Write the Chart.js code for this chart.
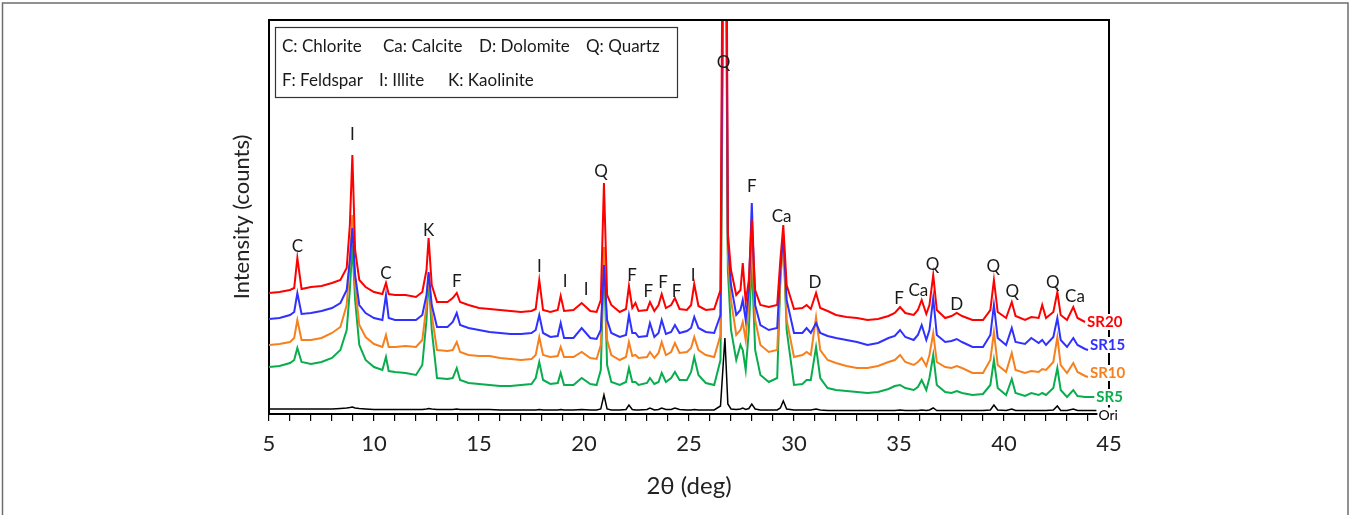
<!DOCTYPE html>
<html>
<head>
<meta charset="utf-8">
<script src="https://cdn.jsdelivr.net/npm/chart.js@4.4.1/dist/chart.umd.min.js"></script>
<style>
  html, body { margin: 0; background: #fff; }
  canvas { display: block; }
</style>
</head>
<body>
<canvas id="xrd" width="1351" height="515"></canvas>
<script>
// 2-theta positions (deg) shared by all patterns
const twoTheta = [
  5.0, 5.5, 6.0, 6.2, 6.35, 6.55, 7.0, 7.5, 8.0, 8.4,
  8.7, 8.85, 8.97, 9.1, 9.3, 9.6, 10.0, 10.4, 10.57, 10.7,
  11.0, 11.5, 12.0, 12.3, 12.5, 12.6, 12.75, 13.0, 13.5, 13.75,
  13.94, 14.1, 14.5, 15.0, 15.5, 16.0, 16.5, 17.0, 17.5, 17.7,
  17.87, 18.05, 18.4, 18.75, 18.89, 19.05, 19.5, 19.89, 20.3, 20.6,
  20.8, 20.95, 21.1, 21.3, 21.7, 22.0, 22.14, 22.3, 22.45, 22.6,
  23.0, 23.14, 23.35, 23.55, 23.7, 23.9, 24.15, 24.33, 24.55, 24.9,
  25.1, 25.25, 25.45, 25.8, 26.2, 26.5, 26.71, 26.85, 27.0, 27.25,
  27.45, 27.56, 27.7, 27.85, 27.99, 28.15, 28.4, 28.8, 29.2, 29.35,
  29.49, 29.65, 30.0, 30.4, 30.6, 30.8, 31.05, 31.25, 31.6, 32.0,
  32.5, 33.0, 33.5, 34.0, 34.5, 34.8, 35.05, 35.3, 35.7, 35.9,
  36.08, 36.3, 36.45, 36.63, 36.8, 37.2, 37.5, 37.75, 38.0, 38.5,
  39.0, 39.35, 39.52, 39.7, 40.1, 40.37, 40.55, 41.0, 41.3, 41.65,
  41.82, 42.0, 42.35, 42.54, 42.7, 43.0, 43.3, 43.5, 43.86, 44.0,
  44.3, 44.4
];

// intensities (counts, stacked patterns as plotted)
const sr20 = [
  1210, 1220, 1240, 1260, 1560, 1250, 1270, 1280, 1310, 1340,
  1460, 1890, 2590, 1640, 1340, 1270, 1220, 1200, 1310, 1200,
  1190, 1190, 1170, 1220, 1440, 1760, 1290, 1120, 1120, 1160,
  1210, 1120, 1090, 1060, 1050, 1040, 1030, 1020, 1030, 1050,
  1340, 1040, 1020, 1040, 1180, 1030, 1040, 1110, 1030, 1020,
  1140, 2310, 1190, 1090, 1020, 1050, 1280, 1060, 1110, 1030,
  1040, 1120, 1030, 1090, 1200, 1060, 1090, 1160, 1050, 1040,
  1090, 1300, 1080, 1040, 1050, 1240, 9000, 1810, 1440, 1190,
  1240, 1510, 1120, 1340, 1940, 1240, 1090, 1070, 1090, 1540,
  1890, 1290, 1050, 1060, 1090, 1050, 1210, 1060, 1030, 990,
  970, 960, 940, 950, 980, 1010, 1070, 1010, 990, 1040,
  1140, 1000, 1090, 1390, 1040, 960, 980, 1010, 980, 940,
  940, 1040, 1340, 1020, 960, 1120, 980, 940, 970, 960,
  1090, 960, 1020, 1220, 990, 940, 1070, 960, 920, null,
  null, null
];
const sr15 = [
  950, 960, 990, 1020, 1210, 1000, 1010, 1030, 1060, 1110,
  1240, 1540, 1860, 1390, 1090, 1010, 960, 940, 1190, 960,
  940, 940, 940, 990, 1190, 1420, 1090, 870, 870, 920,
  1010, 890, 860, 840, 820, 810, 800, 800, 810, 840,
  990, 810, 770, 780, 910, 760, 760, 860, 760, 750,
  840, 1490, 940, 810, 770, 790, 990, 810, 810, 770,
  780, 910, 770, 810, 940, 800, 820, 890, 810, 830,
  860, 970, 860, 820, 810, 990, 7500, 1740, 1290, 990,
  1040, 1140, 940, 1240, 2110, 1090, 890, 840, 860, 1440,
  1790, 1140, 810, 810, 860, 810, 910, 810, 780, 760,
  740, 720, 690, 710, 760, 780, 840, 770, 740, 790,
  890, 740, 840, 1160, 790, 720, 730, 750, 720, 670,
  670, 790, 1090, 760, 690, 860, 720, 700, 760, 710,
  740, 690, 770, 960, 740, 670, 760, 690, 650, 640,
  null, null
];
const sr10 = [
  690, 700, 720, 760, 940, 740, 740, 760, 810, 870,
  1090, 1540, 1990, 1290, 890, 770, 700, 670, 790, 670,
  670, 680, 670, 740, 1090, 1410, 990, 640, 630, 640,
  720, 620, 590, 580, 580, 560, 550, 540, 550, 590,
  770, 590, 570, 580, 670, 570, 570, 620, 560, 550,
  690, 1670, 740, 590, 540, 570, 720, 580, 590, 560,
  570, 620, 560, 610, 720, 590, 620, 710, 610, 620,
  660, 770, 640, 590, 570, 790, 7000, 1590, 1140, 790,
  840, 920, 740, 1140, 1710, 940, 690, 620, 640, 1340,
  1740, 940, 570, 590, 620, 590, 970, 640, 540, 510,
  480, 460, 460, 480, 520, 540, 590, 520, 490, 520,
  560, 480, 590, 810, 520, 470, 460, 480, 460, 410,
  410, 540, 820, 490, 420, 610, 440, 410, 430, 420,
  450, 440, 520, 770, 490, 410, 510, 420, 380, 370,
  null, null
];
const sr5 = [
  470, 480, 510, 540, 660, 520, 500, 520, 560, 640,
  840, 1240, 1690, 1140, 690, 540, 470, 440, 570, 430,
  420, 410, 390, 490, 940, 1360, 840, 360, 350, 360,
  460, 340, 310, 300, 290, 280, 280, 290, 300, 360,
  520, 340, 300, 310, 410, 290, 290, 360, 300, 290,
  440, 1560, 490, 320, 290, 320, 460, 320, 320, 290,
  310, 360, 300, 320, 410, 320, 360, 420, 340, 340,
  420, 570, 390, 310, 290, 540, 6500, 1440, 840, 540,
  690, 640, 440, 840, 1520, 640, 390, 320, 360, 1340,
  1770, 840, 290, 300, 340, 340, 670, 360, 260, 240,
  230, 220, 210, 220, 250, 280, 290, 260, 240, 270,
  340, 240, 360, 590, 290, 220, 210, 230, 210, 190,
  200, 290, 540, 260, 190, 350, 210, 180, 210, 190,
  210, 190, 260, 460, 240, 170, 240, 180, 170, 170,
  170, null
];
const ori = [
  50, 50, 50, 50, 50, 50, 50, 50, 50, 55,
  60, 65, 70, 60, 55, 50, 45, 45, 45, 45,
  45, 45, 45, 45, 50, 55, 50, 45, 45, 45,
  50, 45, 45, 45, 45, 40, 40, 40, 40, 40,
  45, 40, 40, 40, 45, 40, 40, 45, 40, 40,
  50, 190, 50, 40, 40, 45, 90, 45, 40, 40,
  45, 60, 40, 45, 60, 45, 45, 60, 45, 40,
  40, 45, 40, 40, 40, 80, 760, 100, 50, 45,
  50, 60, 45, 55, 100, 50, 40, 40, 40, 60,
  130, 50, 40, 40, 40, 40, 50, 40, 35, 35,
  35, 35, 35, 35, 35, 35, 40, 35, 35, 35,
  40, 35, 40, 60, 35, 35, 35, 35, 35, 35,
  35, 40, 90, 40, 35, 50, 35, 35, 35, 35,
  35, 35, 40, 80, 35, 35, 50, 35, 35, 35,
  35, 35
];

const seriesNames = ['SR20', 'SR15', 'SR10', 'SR5', 'Ori'];
const seriesColors = ['#ff0000', '#3030ff', '#f7801e', '#0aad4e', '#000000'];

// phase labels over the peaks
const peakLabels = ['C', 'I', 'C', 'K', 'F', 'I', 'I', 'I', 'Q', 'F', 'F', 'F', 'F', 'I',
  'Q', 'F', 'Ca', 'D', 'F', 'Ca', 'Q', 'D', 'Q', 'Q', 'Q', 'Ca'];
const peakX = [6.35, 8.97, 10.57, 12.6, 13.94, 17.87, 19.1, 20.1, 20.81, 22.29, 23.06, 23.76, 24.41, 25.2,
  26.65, 27.99, 29.41, 31.0, 35.0, 35.92, 36.6, 37.75, 39.49, 40.4, 42.32, 43.38];
const peakY = [1670, 2790, 1400, 1830, 1320, 1470, 1320, 1240, 2420, 1380, 1220, 1310, 1220, 1380,
  3510, 2270, 1970, 1310, 1150, 1230, 1490, 1090, 1470, 1220, 1310, 1170];

const keyRow1 = ['C: Chlorite', 'Ca: Calcite', 'D: Dolomite', 'Q: Quartz'];
const keyRow2 = ['F: Feldspar', 'I: Illite', 'K: Kaolinite'];

const FONT = 'Lato, "Open Sans", sans-serif';
Chart.defaults.font.family = FONT;
Chart.defaults.color = '#222';

const allSeries = [sr20, sr15, sr10, sr5, ori];
const toPoints = vals => twoTheta.map((x, i) => ({ x, y: vals[i] }));

// light grey frame round the whole figure
const outerFrame = {
  id: 'outerFrame',
  beforeDraw(chart) {
    const c = chart.ctx;
    c.save();
    c.strokeStyle = '#6e6e6e';
    c.lineWidth = 1.5;
    c.beginPath();
    c.moveTo(2.5, 515); c.lineTo(2.5, 3); c.lineTo(1348, 3); c.lineTo(1348, 515);
    c.stroke();
    c.restore();
  }
};

const decorations = {
  id: 'decorations',
  afterDatasetsDraw(chart) {
    const c = chart.ctx, a = chart.chartArea;
    const xs = chart.scales.x, ys = chart.scales.y;
    c.save();

    // top and right edge of the plot box
    c.strokeStyle = '#000';
    c.lineWidth = 2;
    c.beginPath();
    c.moveTo(a.left, a.top); c.lineTo(a.right, a.top); c.lineTo(a.right, a.bottom);
    c.stroke();

    // phase letters
    c.fillStyle = '#1a1a1a';
    c.font = '17px ' + FONT;
    c.textAlign = 'center';
    c.textBaseline = 'middle';
    peakLabels.forEach((t, i) => {
      c.fillText(t, xs.getPixelForValue(peakX[i]), ys.getPixelForValue(peakY[i]));
    });

    // key box
    const bx = a.left + 6, by = a.top + 7;
    c.lineWidth = 1.2;
    c.strokeStyle = '#333';
    c.strokeRect(bx + 0.5, by + 0.5, 402, 70);
    c.textAlign = 'left';
    c.font = '17px ' + FONT;
    const off1 = [7, 108, 204, 311], off2 = [7, 104, 173];
    keyRow1.forEach((t, i) => c.fillText(t, bx + off1[i], by + 20));
    keyRow2.forEach((t, i) => c.fillText(t, bx + off2[i], by + 54));

    // series names at the right end of each pattern
    const nudge = [0, -5, -4, 0, 5];
    chart.data.datasets.forEach((ds, i) => {
      const vals = allSeries[i];
      let k = vals.length - 1;
      while (k > 0 && vals[k] === null) k--;
      const px = xs.getPixelForValue(twoTheta[k]) + 1;
      const py = ys.getPixelForValue(vals[k]) + nudge[i];
      c.font = (i < 4 ? 'bold 15px ' : '14px ') + FONT;
      const w = c.measureText(ds.label).width;
      c.fillStyle = '#fff';
      c.fillRect(px, py - 8, w + 2, 16);
      c.fillStyle = ds.borderColor;
      c.fillText(ds.label, px + 1, py);
    });
    c.restore();
  }
};

new Chart(document.getElementById('xrd'), {
  type: 'line',
  data: {
    datasets: seriesNames.map((name, i) => ({
      label: name,
      data: toPoints(allSeries[i]),
      borderColor: seriesColors[i],
      borderWidth: i < 4 ? 2 : 1.5,
      pointRadius: 0,
      tension: 0,
      fill: false,
      spanGaps: false
    }))
  },
  options: {
    responsive: false,
    animation: false,
    devicePixelRatio: 1,
    layout: { padding: { left: 228, top: 20, right: 242, bottom: 0 } },
    plugins: { legend: { display: false }, tooltip: { enabled: false } },
    scales: {
      x: {
        type: 'linear',
        min: 5, max: 45,
        afterFit(s) { s.height = 101; },
        ticks: {
          stepSize: 1, autoSkip: false, maxRotation: 0, padding: 10,
          font: { size: 22 }, color: '#222',
          callback: v => (v % 5 === 0 ? String(v) : '')
        },
        grid: { drawOnChartArea: false, drawTicks: true, tickLength: 7, color: '#000', lineWidth: 1.2 },
        border: { color: '#000', width: 2 },
        title: { display: true, text: '2θ (deg)', font: { size: 24 }, color: '#222', padding: { top: 0, bottom: 14 } }
      },
      y: {
        min: 0, max: 3940,
        afterFit(s) { s.width = 41; },
        ticks: { display: false },
        grid: { display: false },
        border: { color: '#000', width: 2 },
        title: { display: true, text: 'Intensity (counts)', font: { size: 22 }, color: '#222', padding: { top: 1, bottom: 0 } }
      }
    }
  },
  plugins: [outerFrame, decorations]
});
</script>
</body>
</html>
